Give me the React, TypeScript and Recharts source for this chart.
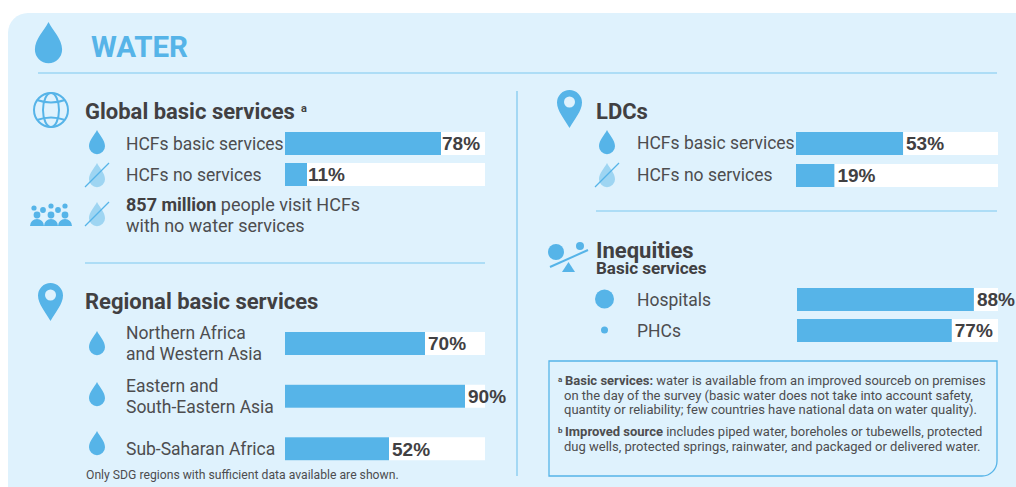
import { BarChart, Bar, XAxis, YAxis, LabelList } from 'recharts';

const BLUE = '#56b4e8';
const LIGHT = '#9ed5f2';
const LINE = '#7cc7ef';
const PANEL = '#dff2fd';
const INK = '#414042';
const BODY = '#4d4d4f';
const FONT = 'Roboto, sans-serif';

const serviceRows = ['HCFs basic services', 'HCFs no services'];
const globalValues = [78, 11];
const regionRows = ['Northern Africa\nand Western Asia', 'Eastern and\nSouth-Eastern Asia', 'Sub-Saharan Africa'];
const regionValues = [70, 90, 52];
const ldcValues = [53, 19];
const inequityRows = ['Hospitals', 'PHCs'];
const inequityValues = [88, 77];

function RowTick({ y, payload }: any) {
  const lines = String(payload.value).split('\n');
  return (
    <text x={0} y={y} fontFamily={FONT} fontSize={17.5} fill={BODY}>
      {lines.map((line, i) => (
        <tspan key={line} x={0} y={y + 6.3 + (i - (lines.length - 1) / 2) * 20.5}>
          {line}
        </tspan>
      ))}
    </text>
  );
}

function RowBars({ names, values, left, top, height, axis, plot, right, gap }: any) {
  const rows = names.map((name: string, i: number) => ({ name, value: values[i] }));
  return (
    <div style={{ position: 'absolute', left, top }}>
      <BarChart
        layout="vertical"
        width={axis + plot + right}
        height={height}
        data={rows}
        margin={{ top: 0, right, bottom: 0, left: 0 }}
        style={{ overflow: 'visible' }}
      >
        <XAxis type="number" domain={[0, 100]} hide />
        <YAxis
          type="category"
          dataKey="name"
          width={axis}
          interval={0}
          axisLine={false}
          tickLine={false}
          tick={<RowTick />}
        />
        <Bar dataKey="value" barSize={23} fill={BLUE} background={{ fill: '#ffffff' }} isAnimationActive={false}>
          <LabelList
            dataKey="value"
            position="right"
            offset={gap}
            formatter={(v: any) => `${v}%`}
            fontFamily="'Liberation Sans', Arial, sans-serif"
            fontWeight={700}
            fontSize={19}
            fill={INK}
          />
        </Bar>
      </BarChart>
    </div>
  );
}

const DROP = 'M0 0C2.5 5 8 10 8 16.2A8 8 0 0 1-8 16.2C-8 10-2.5 5 0 0Z';

function Drop({ x, y, size = 1, fill = BLUE }: any) {
  return <path d={DROP} transform={`translate(${x} ${y}) scale(${size})`} fill={fill} />;
}

function NoDrop({ x, y }: any) {
  return (
    <g>
      <Drop x={x} y={y} fill={LIGHT} />
      <line x1={x - 12} y1={y + 24} x2={x + 12} y2={y} stroke={BLUE} strokeWidth={1.2} />
    </g>
  );
}

function Pin({ x, y }: any) {
  return (
    <g transform={`translate(${x} ${y})`}>
      <path d="M0 38C-5 29-12.5 21-12.5 12.5A12.5 12.5 0 0 1 12.5 12.5C12.5 21 5 29 0 38Z" fill={BLUE} />
      <circle cx={0} cy={12} r={5.5} fill={PANEL} />
    </g>
  );
}

function Heading({ x, y, size = 22, children }: any) {
  return (
    <text x={x} y={y} fontFamily={FONT} fontWeight={700} fontSize={size} fill={INK}>
      {children}
    </text>
  );
}

function Note({ x, y, children }: any) {
  return (
    <text x={x} y={y} fontFamily={FONT} fontSize={13} fill={BODY}>
      {children}
    </text>
  );
}

const peopleDots = [
  [34, 208, 2.6], [51, 206, 2.6], [65, 206, 2.6],
  [43, 210, 2.9], [58, 210, 2.9],
];

function Artwork() {
  return (
    <svg width={1016} height={487} style={{ position: 'absolute', left: 0, top: 0 }}>
      <path d="M28 13H1016V487H8V33A20 20 0 0 1 28 13Z" fill={PANEL} />

      <Drop x={48.5} y={22} size={1.7} />
      <text x={91} y={56.5} fontFamily={FONT} fontWeight={700} fontSize={29.5} fill={BLUE}>WATER</text>
      <line x1={38} y1={73} x2={997} y2={73} stroke={LINE} strokeWidth={1.2} />
      <line x1={517} y1={91} x2={517} y2={476} stroke={LINE} strokeWidth={1.2} />
      <line x1={85} y1={263} x2={485} y2={263} stroke={LINE} strokeWidth={1.2} />
      <line x1={596} y1={211} x2={997} y2={211} stroke={LINE} strokeWidth={1.2} />

      <g fill="none" stroke={BLUE} strokeWidth={2}>
        <circle cx={51} cy={110} r={17} />
        <ellipse cx={51} cy={110} rx={8} ry={17} />
        <path d="M37 100Q51 105 65 100M37 120Q51 115 65 120" />
      </g>
      <Heading x={85} y={119}>Global basic services</Heading>
      <text x={301} y={112} fontFamily={FONT} fontWeight={700} fontSize={11} fill={INK}>a</text>
      <Drop x={97} y={130} />
      <NoDrop x={97} y={163} />

      {peopleDots.map(([cx, cy, r]) => (
        <circle key={`${cx}-${cy}`} cx={cx} cy={cy} r={r} fill={BLUE} />
      ))}
      <g fill={BLUE}>
        <circle cx={37} cy={215} r={3.4} />
        <circle cx={51} cy={215} r={3.4} />
        <circle cx={65} cy={215} r={3.4} />
        <path d="M30 226A7 7 0 0 1 44 226ZM44 226A7 7 0 0 1 58 226ZM58 226A7 7 0 0 1 72 226Z" />
      </g>
      <NoDrop x={97} y={202} />
      <text x={126} y={211} fontFamily={FONT} fontSize={18} fill={BODY}>
        <tspan fontWeight={700} fill={INK}>857 million</tspan> people visit HCFs
      </text>
      <text x={126} y={232} fontFamily={FONT} fontSize={18} fill={BODY}>with no water services</text>

      <Pin x={50.5} y={283} />
      <Heading x={85} y={309}>Regional basic services</Heading>
      <Drop x={97} y={331} />
      <Drop x={97} y={382} />
      <Drop x={97} y={431} />
      <text x={86} y={479} fontFamily={FONT} fontSize={12.2} fill={BODY}>
        Only SDG regions with sufficient data available are shown.
      </text>

      <Pin x={569.5} y={90} />
      <Heading x={596} y={119}>LDCs</Heading>
      <Drop x={607} y={130} />
      <NoDrop x={607} y={163} />

      <circle cx={556} cy={252} r={8} fill={BLUE} />
      <circle cx={580} cy={246} r={4} fill={BLUE} />
      <line x1={550} y1={267} x2={588} y2={250} stroke={BLUE} strokeWidth={2} />
      <path d="M562 272L568.5 262L575 272Z" fill={BLUE} />
      <Heading x={596} y={257.5}>Inequities</Heading>
      <Heading x={596} y={274} size={17}>Basic services</Heading>
      <circle cx={604.5} cy={299} r={9.5} fill={BLUE} />
      <circle cx={604.5} cy={330} r={3.5} fill={BLUE} />

      <path d="M549 361H997V461A15 15 0 0 1 982 476H549Z" fill="none" stroke={BLUE} strokeWidth={1.3} />
      <text x={558} y={382} fontFamily={FONT} fontWeight={700} fontSize={8} fill={BODY}>a</text>
      <Note x={565} y={385}><tspan fontWeight={700}>Basic services:</tspan> water is available from an improved sourceb on premises</Note>
      <Note x={564} y={400}>on the day of the survey (basic water does not take into account safety,</Note>
      <Note x={564} y={414}>quantity or reliability; few countries have national data on water quality).</Note>
      <text x={558} y={433} fontFamily={FONT} fontWeight={700} fontSize={8} fill={BODY}>b</text>
      <Note x={565} y={436}><tspan fontWeight={700}>Improved source</tspan> includes piped water, boreholes or tubewells, protected</Note>
      <Note x={564} y={451}>dug wells, protected springs, rainwater, and packaged or delivered water.</Note>
    </svg>
  );
}

export default function App() {
  return (
    <div style={{ position: 'absolute', left: 0, top: 0, width: 1016, height: 487, overflow: 'hidden', background: '#fff' }}>
      <Artwork />
      <RowBars names={serviceRows} values={globalValues} left={126} top={128} height={62} axis={159} plot={200} right={40} gap={1} />
      <RowBars names={regionRows} values={regionValues} left={126} top={317} height={158} axis={159} plot={200} right={45} gap={3} />
      <RowBars names={serviceRows} values={ldcValues} left={637} top={127} height={64} axis={159} plot={202} right={18} gap={3} />
      <RowBars names={inequityRows} values={inequityValues} left={637} top={284} height={62} axis={160} plot={201} right={18} gap={3} />
    </div>
  );
}
